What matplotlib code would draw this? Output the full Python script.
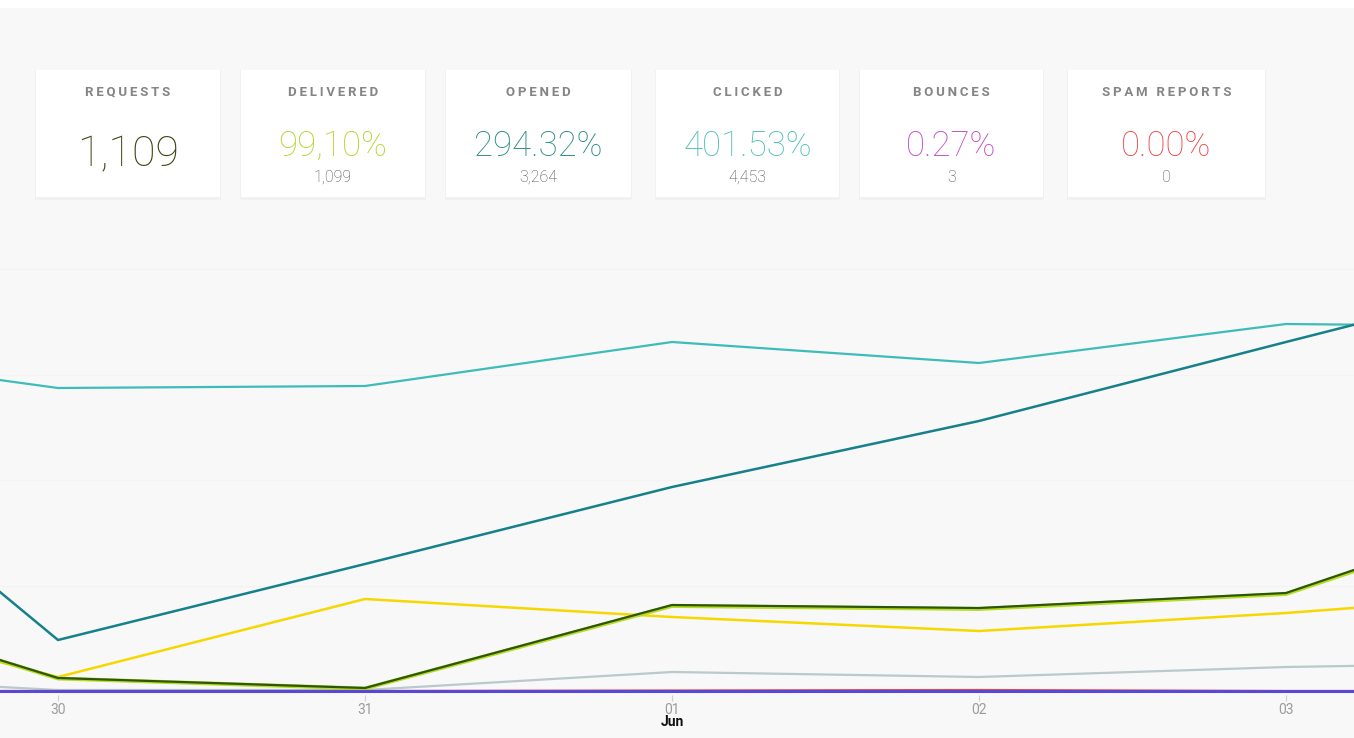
import pandas as pd
import matplotlib
matplotlib.use("Agg")
import matplotlib.pyplot as plt
import matplotlib.dates as mdates
from matplotlib.patches import Rectangle
from matplotlib.transforms import blended_transform_factory

plt.rcParams['font.family'] = ['Roboto', 'DejaVu Sans']

# daily data (May 29 .. Jun 04), only 30..03 fully visible
days = pd.to_datetime(["2019-05-29", "2019-05-30", "2019-05-31", "2019-06-01",
                       "2019-06-02", "2019-06-03", "2019-06-04"])
clicked = [690, 606, 610, 698, 656, 734, 728]
opened = [610, 102, 254, 408, 540, 698, 854]
requests = [216, 26, 6, 172, 166, 196, 404]
delivered = [214, 25, 5, 170, 164, 194, 400]
unique_opens = [186, 28, 184, 148, 120, 156, 202]
unique_clicks = [34, 2, 2, 38, 28, 48, 58]
bounces = [0, 0, 0, 1, 2, 0, 0]
spam = [0, 0, 0, 0, 0, 0, 0]

tick_labels = ["30", "31", "01", "02", "03"]

# summary cards
card_titles = ["REQUESTS", "DELIVERED", "OPENED", "CLICKED", "BOUNCES", "SPAM REPORTS"]
card_main = ["1,109", "99,10%", "294.32%", "401.53%", "0.27%", "0.00%"]
card_sub = ["", "1,099", "3,264", "4,453", "3", "0"]
card_colors = ["#3b4712", "#b2d630", "#2b8d87", "#52c2b6", "#c24fc6", "#ee4a4a"]

W, H = 1354, 738
fig = plt.figure(figsize=(W / 100, H / 100), dpi=100)
fig.patch.set_facecolor("#f8f8f8")


def fx(px):
    return px / W


def fy(py):
    return 1 - py / H


def spaced(s):
    # fake letter spacing with thin spaces
    return "\u2009".join(s)


# white strip on top
fig.add_artist(Rectangle((0, fy(8)), 1, 8 / H, transform=fig.transFigure,
                         facecolor="white", edgecolor="none"))

card_left = [36, 241, 446, 656, 860, 1068]
card_w = [184, 184, 185, 183, 183, 197]
for i in range(6):
    x0 = card_left[i]
    w = card_w[i]
    # soft shadow
    fig.add_artist(Rectangle((fx(x0 - 1), fy(200)), fx(w + 2), 130 / H,
                             transform=fig.transFigure,
                             facecolor="#f1f1f1", edgecolor="none"))
    fig.add_artist(Rectangle((fx(x0), fy(197)), fx(w), 127 / H,
                             transform=fig.transFigure,
                             facecolor="white", edgecolor="none"))
    cx = fx(x0 + w / 2)
    fig.text(cx, fy(92), spaced(card_titles[i]), ha="center", va="center",
             fontsize=9.5, fontweight="bold", color="#858585")
    if i == 0:
        fig.text(cx, fy(155), card_main[i], ha="center", va="center",
                 fontsize=31, fontweight="light", color=card_colors[i])
    else:
        fig.text(cx, fy(146), card_main[i], ha="center", va="center",
                 fontsize=25, fontweight="light", color=card_colors[i])
        fig.text(cx, fy(177), card_sub[i], ha="center", va="center",
                 fontsize=11.5, fontweight="light", color="#4a4a4a")

# line chart
ax = fig.add_axes([0, fy(695), 1, (695 - 250) / H])
ax.set_facecolor("none")

ax.plot(days, unique_clicks, color="#b9c9cc", lw=1.6)
ax.plot(days, clicked, color="#3fbcb9", lw=1.6)
ax.plot(days, opened, color="#16818a", lw=1.8)
ax.plot(days, unique_opens, color="#f6d800", lw=1.8)
ax.plot(days, delivered, color="#b8dc22", lw=2.8)
ax.plot(days, requests, color="#2c560b", lw=1.6)
ax.plot(days, bounces, color="#e5474f", lw=1.6)
ax.plot(days, spam, color="#5848d4", lw=2.2)

x0 = mdates.date2num(pd.Timestamp("2019-05-30"))
ax.set_xlim(x0 - 58 / 307, x0 + (W - 58) / 307)
ax.set_ylim(-8, 882)

ax.set_xticks(days[1:6])
ax.set_xticklabels(tick_labels)
ax.tick_params(axis="x", length=4, color="#d0d0d0", labelcolor="#9c9c9c",
               labelsize=10, pad=2)
ax.set_yticks([0, 211, 422, 633, 844])
ax.tick_params(axis="y", left=False, labelleft=False)
ax.grid(axis="y", color="#f3f3f3", lw=1)
ax.set_axisbelow(True)
for s in ax.spines.values():
    s.set_visible(False)

trans = blended_transform_factory(ax.transData, fig.transFigure)
ax.text(mdates.date2num(days[3]), fy(722), "Jun", transform=trans,
        ha="center", va="center", fontsize=10, fontweight="bold", color="#111111")

fig.savefig("out.png", dpi=100, facecolor=fig.get_facecolor())
